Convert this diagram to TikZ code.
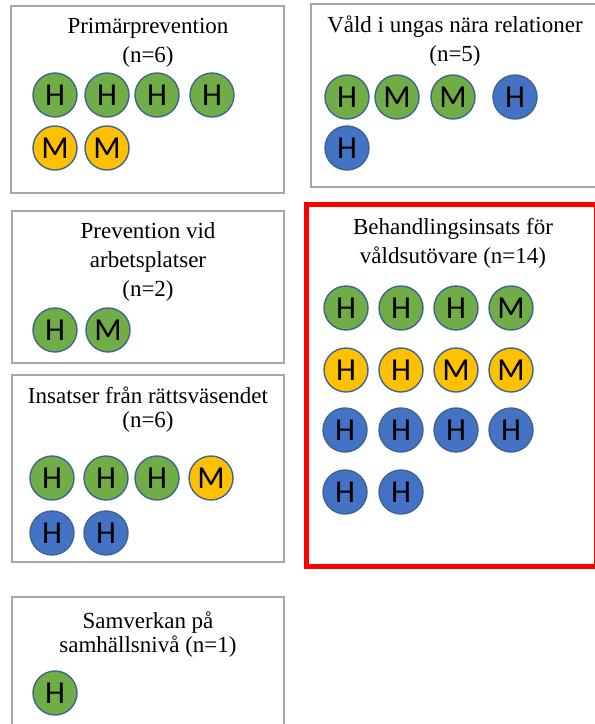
\documentclass[tikz,border=0pt]{standalone}
\usepackage{fontspec}
\setmainfont{Liberation Serif}
\newfontfamily\circfont{Carlito}
\usepackage{tikz}
\usetikzlibrary{positioning}
\definecolor{hgreen}{HTML}{70AD47}
\definecolor{hamber}{HTML}{FFC000}
\definecolor{hblue}{HTML}{4472C4}
\definecolor{hedge}{HTML}{3D6590}
\definecolor{boxgray}{HTML}{A6A6A6}

\begin{document}
\begin{tikzpicture}[x=1pt, y=-1pt,
  gbox/.style={draw=boxgray, line width=2pt, inner sep=0pt},
  rbox/.style={draw=red, line width=5pt, inner sep=0pt},
  ttl/.style={align=center, inner sep=0pt, font=\fontsize{23}{29}\selectfont},
  ttltight/.style={ttl, font=\fontsize{23}{24}\selectfont},
  dot/.style={circle, draw=hedge, line width=1.4pt, minimum size=44pt,
              inner sep=0pt, font=\circfont\fontsize{32}{32}\selectfont},
  grn/.style={dot, fill=hgreen},
  amb/.style={dot, fill=hamber},
  blu/.style={dot, fill=hblue},
]
\useasboundingbox (0,0) rectangle (595,724);

\node[gbox, minimum width=273pt, minimum height=187pt] (primbox) at (147.5,99.5) {};
\node[ttl] (primttl) at (148,42.5) {Primärprevention\\(n=6)};
\node[grn] (prim1) at (55,95) {H};
\node[grn] (prim2) at (107,95) {H};
\node[grn] (prim3) at (157,95) {H};
\node[grn] (prim4) at (212,95) {H};
\node[amb] (prim5) at (55,148) {M};
\node[amb] (prim6) at (107,148) {M};

\node[gbox, minimum width=296pt, minimum height=183pt] (valdbox) at (459,95.5) {};
\node[ttl] (valdttl) at (455,41.5) {Våld i ungas nära relationer\\(n=5)};
\node[grn] (vald1) at (347,97) {H};
\node[grn] (vald2) at (397,97) {M};
\node[grn] (vald3) at (453,97) {M};
\node[blu] (vald4) at (515,97) {H};
\node[blu] (vald5) at (347,148) {H};

\node[gbox, minimum width=272pt, minimum height=152pt] (arbbox) at (148,287) {};
\node[ttl] (arbttl) at (148,261.5) {Prevention vid\\arbetsplatser\\(n=2)};
\node[grn] (arb1) at (55,330) {H};
\node[grn] (arb2) at (108,330) {M};

\node[gbox, minimum width=272pt, minimum height=187pt] (ratbox) at (148,468.5) {};
\node[ttltight] (ratttl) at (148,410) {Insatser från rättsväsendet\\(n=6)};
\node[grn] (rat1) at (52,478) {H};
\node[grn] (rat2) at (106,478) {H};
\node[grn] (rat3) at (157,478) {H};
\node[amb] (rat4) at (211,478) {M};
\node[blu] (rat5) at (52,533) {H};
\node[blu] (rat6) at (106,533) {H};

\node[rbox, minimum width=290pt, minimum height=362pt] (behbox) at (451.5,385.5) {};
\node[ttl] (behttl) at (453,243.5) {Behandlingsinsats för\\våldsutövare (n=14)};
\node[grn] (beh1) at (346,308) {H};
\node[grn] (beh2) at (401,308) {H};
\node[grn] (beh3) at (456,308) {H};
\node[grn] (beh4) at (511,308) {M};
\node[amb] (beh5) at (346,370) {H};
\node[amb] (beh6) at (401,370) {H};
\node[amb] (beh7) at (456,370) {M};
\node[amb] (beh8) at (511,370) {M};
\node[blu] (beh9) at (345,430) {H};
\node[blu] (beh10) at (401,430) {H};
\node[blu] (beh11) at (456,430) {H};
\node[blu] (beh12) at (511,430) {H};
\node[blu] (beh13) at (345,492) {H};
\node[blu] (beh14) at (401,492) {H};

\node[gbox, minimum width=272pt, minimum height=143pt] (samvbox) at (148,668.5) {};
\node[ttltight] (samvttl) at (148,635) {Samverkan på\\samhällsnivå (n=1)};
\node[grn] (samv1) at (55,693) {H};
\end{tikzpicture}
\end{document}
